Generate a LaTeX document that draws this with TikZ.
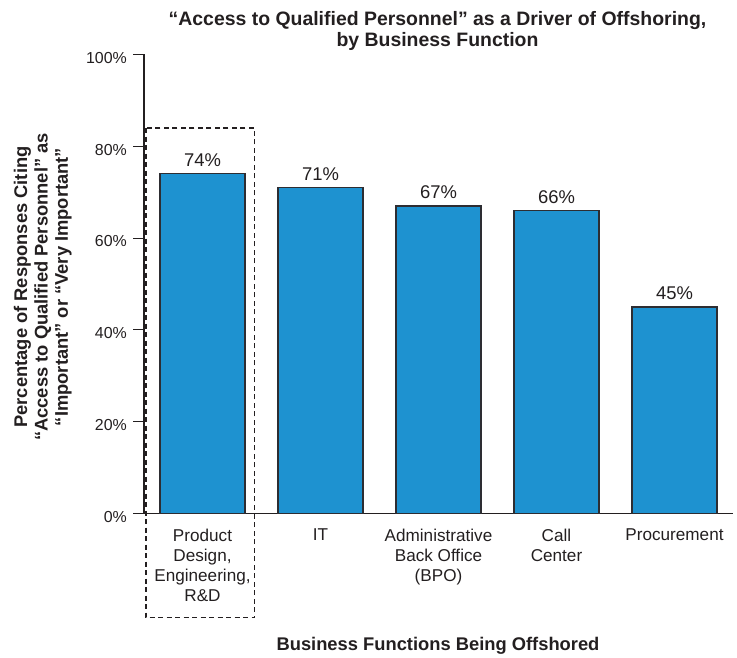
\documentclass[tikz,border=0pt]{standalone}
\usepackage{fontspec}
\setmainfont{Liberation Sans}
\definecolor{barblue}{RGB}{30,146,208}
\definecolor{barline}{RGB}{45,45,50}
\definecolor{txt}{RGB}{35,31,32}
\begin{document}
\begin{tikzpicture}[x=1bp,y=-1bp,
  bar/.style={draw=barline, fill=barblue, line width=1.1bp, minimum width=85bp,
    inner sep=0pt, outer sep=0pt, anchor=south west},
  val/.style={font=\fontsize{18.5}{20}\selectfont, text=txt, anchor=base, inner sep=0pt},
  cat/.style={font=\fontsize{17.2}{20.2}\selectfont, text=txt, align=center,
    anchor=north, inner sep=0pt},
  ticklbl/.style={font=\fontsize{16}{18}\selectfont, text=txt, anchor=base east, inner sep=0pt},
  axisline/.style={draw=txt, line width=1.1bp},
  boldlbl/.style={font=\bfseries\fontsize{18.4}{20.5}\selectfont, text=txt, align=center, inner sep=0pt},
  titlelbl/.style={font=\bfseries\fontsize{19.5}{21.7}\selectfont, text=txt, align=center, inner sep=0pt},
  hilite/.style={draw=txt, line width=1.2bp, dash pattern=on 5bp off 3.5bp}
]
\useasboundingbox (0,0) rectangle (737,658);

% title
\node[titlelbl, anchor=north] (title) at (437.5,10.8)
  {“Access to Qualified Personnel” as a Driver of Offshoring,\\ by Business Function};

% axis
\coordinate (ytop) at (144,54.5);
\coordinate (ybot) at (144,513.5);
\coordinate (xend) at (733,513.5);
\draw[axisline] (ytop) -- (ybot);
\foreach \v [count=\i] in {0,20,40,60,80,100} {
  \coordinate (t\i) at (133,513.5-4.59*\v);
  \coordinate (u\i) at (144,513.5-4.59*\v);
  \draw[axisline] (t\i) -- (u\i);
  \node[ticklbl] (tl\i) at (127,513.5-4.59*\v+8.7) {\v\%};
}
\coordinate (t0) at (133,513.5);
\draw[axisline] (t0) -- (xend);

% highlight box
\draw[hilite] (146,128) rectangle (254.5,617.5);

% bars
\node[bar, minimum height=4.59*74bp] (b1) at (160,513.5) {};
\node[bar, minimum height=4.59*71bp] (b2) at (278,513.5) {};
\node[bar, minimum height=4.59*67bp] (b3) at (396,513.5) {};
\node[bar, minimum height=4.59*66bp] (b4) at (514,513.5) {};
\node[bar, minimum height=4.59*45bp] (b5) at (632,513.5) {};

% value labels
\node[val] (v1) at ([yshift=7bp]b1.north) {74\%};
\node[val] (v2) at ([yshift=7bp]b2.north) {71\%};
\node[val] (v3) at ([yshift=7bp]b3.north) {67\%};
\node[val] (v4) at ([yshift=7bp]b4.north) {66\%};
\node[val] (v5) at ([yshift=7bp]b5.north) {45\%};

% category labels
\node[cat] (c1) at (202.5,529) {Product\\Design,\\Engineering,\\R\&D};
\node[cat] (c2) at (320.5,529) {IT};
\node[cat] (c3) at (438.5,529) {Administrative\\Back Office\\(BPO)};
\node[cat] (c4) at (556.5,529) {Call\\Center};
\node[cat] (c5) at (674.5,529) {Procurement};

% axis titles
\node[boldlbl, anchor=base] (xtitle) at (438,650) {Business Functions Being Offshored};
\node[boldlbl, rotate=90, anchor=center] (ytitle) at (42.8,287)
  {Percentage of Responses Citing\\“Access to Qualified Personnel” as\\“Important” or “Very Important”};
\end{tikzpicture}
\end{document}
